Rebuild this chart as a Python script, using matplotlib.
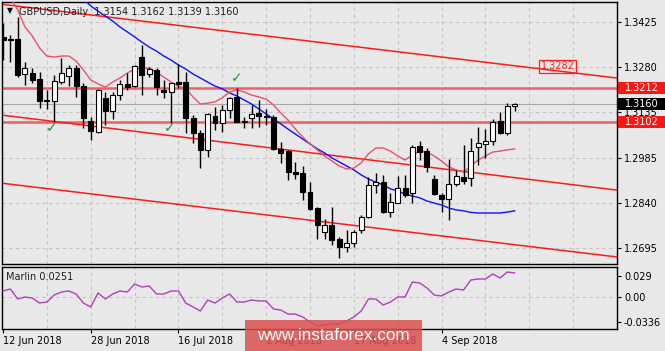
import matplotlib
matplotlib.use('Agg')
import matplotlib.pyplot as plt
from matplotlib.patches import Rectangle
from matplotlib.transforms import blended_transform_factory

# ---------------- data ----------------
tick_idx = [0, 12, 24, 36, 48, 60]
tick_labels = ['12 Jun 2018', '28 Jun 2018', '16 Jul 2018', '1 Aug 2018', '17 Aug 2018', '4 Sep 2018']

opens = [1.3377, 1.3370, 1.3370, 1.3257, 1.3260, 1.3241, 1.3173, 1.3170, 1.3231, 1.3251,
         1.3276, 1.3218, 1.3105, 1.3070, 1.3180, 1.3138, 1.3189, 1.3225, 1.3218, 1.3312,
         1.3257, 1.3270, 1.3205, 1.3199, 1.3231, 1.3231, 1.3115, 1.3066, 1.3012, 1.3121,
         1.3099, 1.3141, 1.3183, 1.3105, 1.3115, 1.3131, 1.3121, 1.3118, 1.3015, 1.3008,
         1.2940, 1.2937, 1.2876, 1.2824, 1.2746, 1.2769, 1.2724, 1.2698, 1.2711, 1.2753,
         1.2795, 1.2899, 1.2908, 1.2811, 1.2840, 1.2889, 1.2873, 1.3024, 1.3008, 1.2918,
         1.2866, 1.2853, 1.2902, 1.2924, 1.2921, 1.3021, 1.3031, 1.3041, 1.3105, 1.3066,
         1.3154]
highs = [1.3422, 1.3383, 1.3441, 1.3296, 1.3276, 1.3263, 1.3205, 1.3254, 1.3309, 1.3286,
         1.3286, 1.3228, 1.3118, 1.3209, 1.3199, 1.3199, 1.3238, 1.3260, 1.3286, 1.3351,
         1.3280, 1.3276, 1.3238, 1.3228, 1.3289, 1.3263, 1.3125, 1.3076, 1.3131, 1.3150,
         1.3157, 1.3183, 1.3212, 1.3118, 1.3157, 1.3173, 1.3144, 1.3125, 1.3037, 1.3012,
         1.2973, 1.2960, 1.2908, 1.2828, 1.2789, 1.2828, 1.2731, 1.2753, 1.2753, 1.2802,
         1.2924, 1.2937, 1.2931, 1.2873, 1.2928, 1.2931, 1.3028, 1.3041, 1.3018, 1.2931,
         1.2873, 1.2982, 1.2947, 1.3028, 1.3050, 1.3086, 1.3079, 1.3112, 1.3134, 1.3163,
         1.3162]
lows = [1.3302, 1.3296, 1.3247, 1.3222, 1.3228, 1.3147, 1.3144, 1.3102, 1.3225, 1.3218,
        1.3183, 1.3083, 1.3044, 1.3066, 1.3092, 1.3112, 1.3173, 1.3205, 1.3215, 1.3189,
        1.3247, 1.3189, 1.3179, 1.3099, 1.3212, 1.3066, 1.3034, 1.2953, 1.2989, 1.3076,
        1.3070, 1.3115, 1.3102, 1.3083, 1.3083, 1.3086, 1.3092, 1.3012, 1.2970, 1.2915,
        1.2918, 1.2850, 1.2818, 1.2724, 1.2724, 1.2705, 1.2663, 1.2682, 1.2698, 1.2743,
        1.2792, 1.2873, 1.2808, 1.2795, 1.2840, 1.2860, 1.2840, 1.2979, 1.2940, 1.2866,
        1.2811, 1.2786, 1.2895, 1.2902, 1.2895, 1.2963, 1.2986, 1.3028, 1.3063, 1.3060,
        1.3139]
closes = [1.3367, 1.3367, 1.3254, 1.3276, 1.3238, 1.3170, 1.3170, 1.3234, 1.3260, 1.3276,
          1.3218, 1.3115, 1.3073, 1.3205, 1.3138, 1.3189, 1.3225, 1.3215, 1.3283, 1.3254,
          1.3273, 1.3215, 1.3199, 1.3228, 1.3225, 1.3115, 1.3066, 1.3012, 1.3128, 1.3099,
          1.3141, 1.3180, 1.3102, 1.3102, 1.3128, 1.3121, 1.3118, 1.3015, 1.3002, 1.2940,
          1.2934, 1.2876, 1.2821, 1.2769, 1.2769, 1.2721, 1.2698, 1.2711, 1.2746, 1.2795,
          1.2899, 1.2908, 1.2811, 1.2844, 1.2889, 1.2866, 1.3021, 1.3005, 1.2957, 1.2869,
          1.2853, 1.2902, 1.2928, 1.2912, 1.3008, 1.3034, 1.3041, 1.3102, 1.3066, 1.3154,
          1.3160]

ma_blue_start = 11
ma_blue = [1.3499, 1.3477, 1.3460, 1.3444, 1.3428, 1.3409, 1.3393, 1.3377, 1.3360, 1.3344,
           1.3331, 1.3315, 1.3302, 1.3286, 1.3273, 1.3257, 1.3244, 1.3231, 1.3218, 1.3209,
           1.3196, 1.3186, 1.3173, 1.3160, 1.3144, 1.3128, 1.3112, 1.3096, 1.3079, 1.3063,
           1.3047, 1.3031, 1.3015, 1.3002, 1.2986, 1.2973, 1.2960, 1.2947, 1.2931, 1.2918,
           1.2908, 1.2899, 1.2886, 1.2879, 1.2869, 1.2863, 1.2857, 1.2847, 1.2840, 1.2834,
           1.2824, 1.2818, 1.2815, 1.2810, 1.2808, 1.2808, 1.2808, 1.2808, 1.2811, 1.2815]

ma_pink_start = 1
ma_pink = [1.3506, 1.3464, 1.3409, 1.3380, 1.3341, 1.3315, 1.3312, 1.3315, 1.3315, 1.3299,
           1.3270, 1.3238, 1.3225, 1.3215, 1.3231, 1.3244, 1.3260, 1.3273, 1.3276, 1.3276,
           1.3263, 1.3247, 1.3231, 1.3218, 1.3209, 1.3183, 1.3160, 1.3163, 1.3167, 1.3180,
           1.3199, 1.3205, 1.3199, 1.3189, 1.3183, 1.3176, 1.3157, 1.3131, 1.3108, 1.3079,
           1.3054, 1.3031, 1.3012, 1.2992, 1.2976, 1.2960, 1.2950, 1.2953, 1.2970, 1.2999,
           1.3018, 1.3018, 1.3008, 1.2992, 1.2979, 1.2995, 1.3008, 1.3005, 1.2992, 1.2976,
           1.2957, 1.2947, 1.2940, 1.2960, 1.2979, 1.2992, 1.3005, 1.3008, 1.3012, 1.3015]

marlin = [0.0086, 0.0113, -0.0023, 0.0004, -0.0010, -0.0078, -0.0064, 0.0031, 0.0072, 0.0086,
          0.0045, -0.0078, -0.0132, 0.0059, -0.0023, 0.0045, 0.0086, 0.0072, 0.0181, 0.0140,
          0.0154, 0.0045, 0.0045, 0.0086, 0.0086, -0.0078, -0.0132, -0.0186, -0.0037, -0.0078,
          -0.0010, 0.0045, -0.0064, -0.0064, -0.0037, -0.0050, -0.0050, -0.0159, -0.0173, -0.0228,
          -0.0228, -0.0268, -0.0336, -0.0391, -0.0377, -0.0363, -0.0363, -0.0322, -0.0268, -0.0186,
          -0.0023, -0.0023, -0.0105, -0.0064, 0.0004, 0.0004, 0.0208, 0.0195, 0.0127, 0.0031,
          0.0018, 0.0072, 0.0113, 0.0099, 0.0235, 0.0249, 0.0249, 0.0317, 0.0263, 0.0344,
          0.0331]
marlin_label = 0.0251

# channel lines (two anchor points each)
chan_x = [-0.41, 84.0]
chan_upper = [1.3483, 1.3244]
chan_middle = [1.3125, 1.2882]
chan_lower = [1.2905, 1.2666]

levels = [1.3212, 1.3102]
chan_label = 1.3282
price_ticks = [1.3425, 1.3280, 1.3135, 1.2985, 1.2840, 1.2695]
marlin_ticks = [0.029, 0.00, -0.0336]
marlin_tick_labels = ['0.029', '0.00', '-0.0336']
check_x = [6.7, 22.8, 32.0]
check_y = [1.3083, 1.3083, 1.3244]

# ---------------- figure ----------------
W, H = 665, 351
BG = '#e8e8e8'
fig = plt.figure(figsize=(W / 100, H / 100), dpi=100, facecolor=BG)
plt.rcParams['font.family'] = ['DejaVu Sans']

ax = fig.add_axes([2 / W, 1 - 264 / H, 615 / W, 262 / H], facecolor=BG)
lx = fig.add_axes([2 / W, 1 - 329 / H, 615 / W, 62 / H], facecolor=BG)

XMIN, XMAX = -0.14, 84.0
ax.set_xlim(XMIN, XMAX)
ax.set_ylim(1.26433, 1.34896)
lx.set_xlim(XMIN, XMAX)
lx.set_ylim(-0.0431, 0.0412)

grid_kw = dict(color='#c4c4c4', lw=0.8, ls=(0, (3, 3)), zorder=0)
for g in range(6, 85, 6):
    ax.axvline(g, **grid_kw)
    lx.axvline(g, **grid_kw)
for p in price_ticks:
    ax.axhline(p, **grid_kw)
lx.axhline(0.0, **grid_kw)

# horizontal levels
for lv in levels:
    ax.axhline(lv, color='#f06060', lw=1.8, zorder=2)
ax.axhline(closes[-1], color='#a8a8a8', lw=0.8, zorder=2)

# channel
for ch in (chan_upper, chan_middle, chan_lower):
    ax.plot(chan_x, ch, color='#ff1a1a', lw=1.1, zorder=2)

# moving averages
ax.plot(range(ma_blue_start, ma_blue_start + len(ma_blue)), ma_blue, color='#1010ff', lw=1.0, zorder=3)
ax.plot(range(ma_pink_start, ma_pink_start + len(ma_pink)), ma_pink, color='#e8506e', lw=1.0, zorder=3)

# candles
bw = 0.68
for i, (o, h, l, c) in enumerate(zip(opens, highs, lows, closes)):
    ax.plot([i, i], [l, h], color='black', lw=1.0, zorder=4, solid_capstyle='butt')
    bottom = min(o, c)
    height = max(abs(c - o), 0.00025)
    fc = 'white' if c > o else 'black'
    ax.add_patch(Rectangle((i - bw / 2, bottom), bw, height, facecolor=fc,
                           edgecolor='black', lw=0.8, zorder=5))

# check marks
for cx, cy in zip(check_x, check_y):
    ax.text(cx, cy, '\u2713', color='#2f8f3f', fontsize=10, fontweight='bold',
            ha='center', va='center', zorder=6)

# channel price label
ax.text(75.9, chan_label, f'{chan_label:.4f}', color='#ff2020', fontsize=7,
        ha='center', va='center', zorder=6,
        bbox=dict(boxstyle='square,pad=0.18', fc='none', ec='#ff2020', lw=0.9))

# axes styling
for a in (ax, lx):
    for s in a.spines.values():
        s.set_color('black')
        s.set_linewidth(1.0)
    a.yaxis.tick_right()
    a.tick_params(axis='y', direction='out', length=3, pad=2, labelsize=7, colors='black')

ax.set_yticks(price_ticks)
ax.set_yticklabels([f'{p:.4f}' for p in price_ticks])
ax.set_xticks([])

lx.set_yticks(marlin_ticks)
lx.set_yticklabels(marlin_tick_labels)
lx.set_xticks(tick_idx)
lx.set_xticklabels(tick_labels)
lx.tick_params(axis='x', direction='out', length=3, pad=2, labelsize=7, colors='black')
for t in lx.get_xticklabels():
    t.set_ha('left')

lx.plot(range(len(marlin)), marlin, color='#b040b8', lw=1.0, zorder=3)

# right-hand price boxes
trans = blended_transform_factory(ax.transAxes, ax.transData)
ppx = (1.34896 - 1.26433) / 262.0
def price_box(price, fc):
    h = 12 * ppx
    ax.add_patch(Rectangle((1.0016, price - h / 2), 47 / 615, h, transform=trans,
                           facecolor=fc, edgecolor='none', clip_on=False, zorder=8))
    ax.text(1.0016 + 23.5 / 615, price, f'{price:.4f}', transform=trans, color='white',
            fontsize=7, ha='center', va='center', clip_on=False, zorder=9)

price_box(levels[0], '#ff1414')
price_box(closes[-1], 'black')
price_box(levels[1], '#ff1414')

# titles
fig.text(10 / W, 1 - 11 / H, '\u25BC', fontsize=5.5, ha='center', va='center', color='black')
fig.text(19 / W, 1 - 12 / H,
         f'GBPUSD,Daily  {opens[-1]:.4f} {highs[-1]:.4f} {lows[-1]:.4f} {closes[-1]:.4f}',
         fontsize=7, ha='left', va='center', color='#202020')
fig.text(6 / W, 1 - 277 / H, f'Marlin {marlin_label:.4f}', fontsize=7, ha='left',
         va='center', color='#202020')

# watermark
fig.patches.append(Rectangle((245 / W, 0), 177 / W, 31 / H, transform=fig.transFigure,
                             facecolor='#dc4f4f', alpha=0.85, edgecolor='none', zorder=10))
fig.text(333 / W, 15 / H, 'www.instaforex.com', color='white', fontsize=12.3,
         family='Liberation Sans', ha='center', va='center', zorder=11)

fig.savefig('out.png', dpi=100, facecolor=BG)
